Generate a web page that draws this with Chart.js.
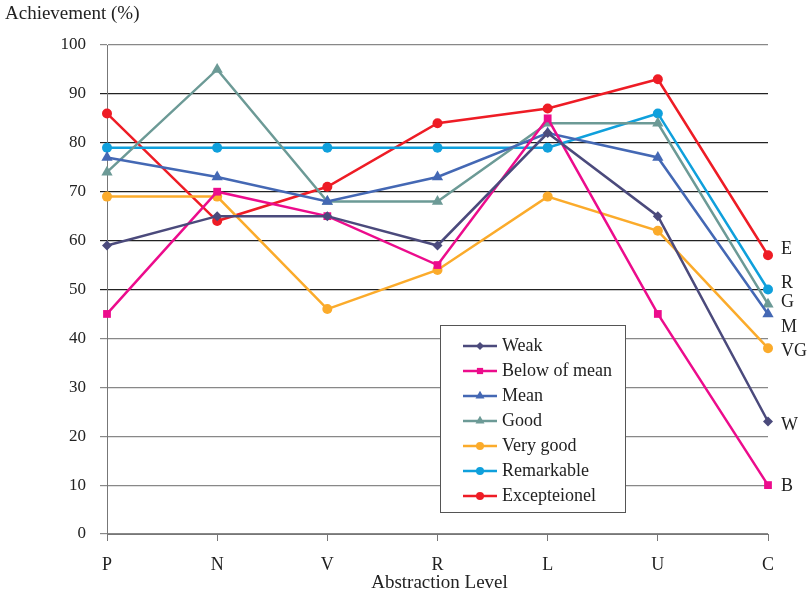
<!DOCTYPE html>
<html>
<head>
<meta charset="utf-8">
<script src="https://cdn.jsdelivr.net/npm/chart.js@4"></script>
<style>
  html, body { margin: 0; padding: 0; background: #fff; }
  #wrap { width: 809px; height: 595px; position: relative; }
</style>
</head>
<body>
<div id="wrap"><canvas id="chart" width="809" height="595"></canvas></div>
<script>
// ===== Data =====
const levels = ['P', 'N', 'V', 'R', 'L', 'U', 'C'];

const weak        = [59, 65, 65, 59, 82, 65, 23];
const belowMean   = [45, 70, 65, 55, 85, 45, 10];
const mean        = [77, 73, 68, 73, 82, 77, 45];
const good        = [74, 95, 68, 68, 84, 84, 47];
const veryGood    = [69, 69, 46, 54, 69, 62, 38];
const remarkable  = [79, 79, 79, 79, 79, 86, 50];
const exceptional = [86, 64, 71, 84, 87, 93, 57];

const seriesNames = ['Weak', 'Below of mean', 'Mean', 'Good', 'Very good', 'Remarkable', 'Excepteionel'];
// short tags written next to the last point (C)
const endTags = ['W', 'B', 'M', 'G', 'VG', 'R', 'E'];
const endTagValues = [22.3, 9.8, 42.3, 47.4, 37.4, 51.3, 58.3];

const yTitle = 'Achievement (%)';
const xTitle = 'Abstraction Level';

const SERIF = '"Liberation Serif", "DejaVu Serif", serif';

function ds(label, data, color, style, radius) {
    return {
        label, data,
        borderColor: color, backgroundColor: color,
        borderWidth: 2.5,
        pointStyle: style, pointRadius: radius, pointHoverRadius: radius,
        pointBorderWidth: 0,
        tension: 0, clip: false
    };
}

const datasets = [
    ds(seriesNames[0], weak,        '#4b4a7c', 'rectRot',  5),
    ds(seriesNames[1], belowMean,   '#ec0c8c', 'rect',     5.5),
    ds(seriesNames[2], mean,        '#4468b4', 'triangle', 6.5),
    ds(seriesNames[3], good,        '#6c9a96', 'triangle', 6.5),
    ds(seriesNames[4], veryGood,    '#fbab2b', 'circle',   5),
    ds(seriesNames[5], remarkable,  '#0fa0dc', 'circle',   5),
    ds(seriesNames[6], exceptional, '#ee1c25', 'circle',   5),
];

// texts + legend box drawn on the canvas
const extras = {
    id: 'extras',
    afterDraw(chart) {
        const ctx = chart.ctx;
        const xs = chart.scales.x, ys = chart.scales.y;
        ctx.save();
        ctx.fillStyle = '#222';
        ctx.textBaseline = 'middle';

        ctx.font = '19px ' + SERIF;
        ctx.textAlign = 'left';
        ctx.fillText(yTitle, 5, 14);
        ctx.textAlign = 'center';
        ctx.fillText(xTitle, (xs.left + xs.right) / 2 + 2, 583);

        // end tags
        ctx.font = '18px ' + SERIF;
        ctx.textAlign = 'left';
        const xc = xs.getPixelForValue(levels.length - 1);
        endTags.forEach((t, i) => {
            ctx.fillText(t, xc + 13, ys.getPixelForValue(endTagValues[i]));
        });

        // legend
        const bx = 440, by = 325, bw = 185, bh = 187;
        ctx.fillStyle = '#fff';
        ctx.fillRect(bx, by, bw, bh);
        ctx.strokeStyle = '#555';
        ctx.lineWidth = 1;
        ctx.strokeRect(bx + 0.5, by + 0.5, bw, bh);
        ctx.font = '18px ' + SERIF;
        chart.data.datasets.forEach((d, i) => {
            const y = by + 21 + i * 25;
            ctx.strokeStyle = d.borderColor;
            ctx.lineWidth = 2.5;
            ctx.beginPath();
            ctx.moveTo(bx + 23, y);
            ctx.lineTo(bx + 57, y);
            ctx.stroke();
            ctx.fillStyle = d.backgroundColor;
            Chart.helpers.drawPoint(ctx, {
                pointStyle: d.pointStyle, radius: d.pointRadius * 0.8, borderWidth: 0
            }, bx + 40, y);
            ctx.fillStyle = '#222';
            ctx.fillText(d.label, bx + 62, y);
        });
        ctx.restore();
    }
};

new Chart(document.getElementById('chart').getContext('2d'), {
    type: 'line',
    data: { labels: levels, datasets },
    options: {
        responsive: false,
        animation: false,
        layout: { padding: { top: 45, right: 41, left: 0, bottom: 0 } },
        plugins: { legend: { display: false }, tooltip: { enabled: false } },
        scales: {
            x: {
                offset: false,
                grid: { drawOnChartArea: false, drawTicks: true, tickLength: 7, color: '#777' },
                border: { display: true, color: '#777' },
                ticks: { color: '#222', font: { family: SERIF, size: 18 }, padding: 13, maxRotation: 0 },
                afterFit: s => { s.height = 61; }
            },
            y: {
                min: 0, max: 100,
                grid: {
                    tickLength: 7,
                    color: c => (c.tick && c.tick.value >= 50 && c.tick.value <= 90) ? '#222' : '#888',
                    lineWidth: 1.2
                },
                border: { display: true, color: '#777' },
                ticks: { stepSize: 10, color: '#222', font: { family: SERIF, size: 17 }, padding: 14 },
                afterFit: s => { s.width = 107; }
            }
        }
    },
    plugins: [extras]
});
</script>
</body>
</html>
